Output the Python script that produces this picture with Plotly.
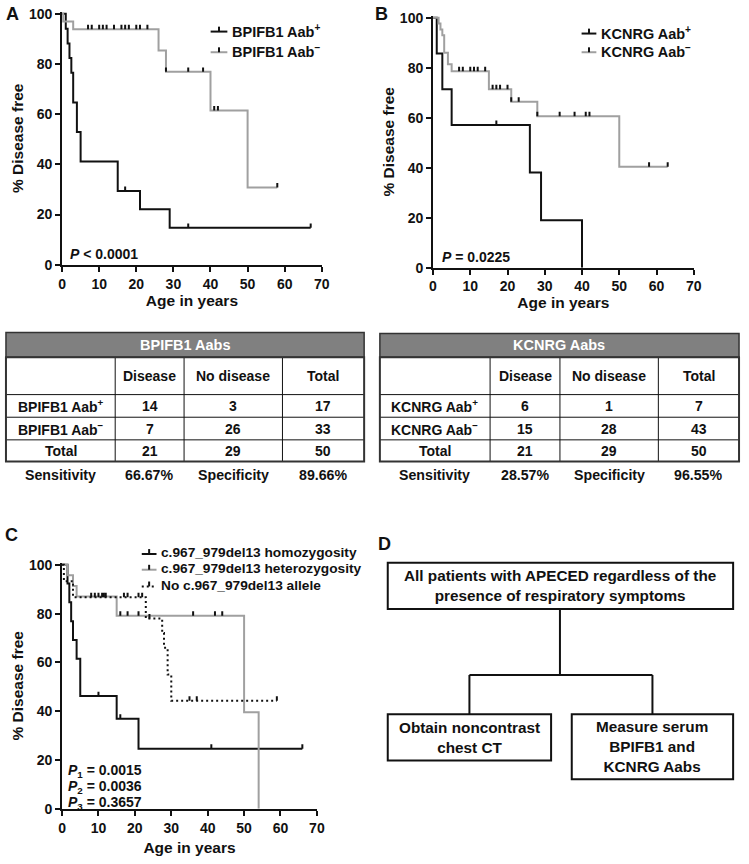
import plotly.graph_objects as go

W, H = 749, 864
FONT = "Liberation Sans, Arial, Helvetica, sans-serif"
BLACK = "#111111"
GRAY = "#a0a0a0"

# ---------------- data ----------------
# Panel A: BPIFB1 autoantibodies (Kaplan-Meier, % disease free)
A_pos_t = [0, 1, 1.5, 2, 2.5, 3, 4, 5, 15, 21, 29, 67]
A_pos_s = [100, 94.1, 88.2, 82.4, 76.5, 64.7, 52.9, 41.2, 29.4, 22.1, 14.7, 14.7]
A_pos_cens = [17, 34, 67]
A_neg_t = [0, 0.3, 3, 26, 28, 40, 50, 58]
A_neg_s = [100, 97.0, 93.9, 85.4, 76.9, 61.5, 30.8, 30.8]
A_neg_cens = [7, 8, 10, 11, 12, 14, 16, 17, 18, 20, 21, 23, 28, 34, 38, 41, 42, 58]

# Panel B: KCNRG autoantibodies
B_pos_t = [0, 1, 2.5, 5, 26, 29, 40]
B_pos_s = [100, 85.7, 71.4, 57.1, 38.1, 19.0, 0]
B_pos_cens = [17]
B_neg_t = [0, 1.5, 2, 2.5, 3, 4, 5, 15, 21, 28, 50, 63]
B_neg_s = [100, 97.7, 95.3, 93.0, 86.0, 81.4, 78.6, 71.4, 66.4, 60.6, 40.4, 40.4]
B_neg_cens = [7, 8, 10, 11, 12, 14, 16, 17, 18, 20, 21, 23, 28, 34, 38, 41, 42, 58, 63]

# Panel C: c.967_979del13 genotype
C_hom_t = [0, 1.5, 2, 2.5, 3, 4, 5, 15, 21, 66]
C_hom_s = [100, 92.3, 84.6, 76.9, 69.2, 61.5, 46.2, 36.9, 24.6, 24.6]
C_hom_cens = [10, 16, 41, 66]
C_het_t = [0, 1.5, 3, 4, 15, 50, 54]
C_het_s = [100, 95.7, 91.3, 87.0, 79.1, 39.6, 0]
C_het_cens = [16, 18, 21, 36, 42, 44]
C_no_t = [0, 0.5, 3, 23, 27.5, 28, 29, 30, 59]
C_no_s = [100, 93.3, 86.7, 78.0, 72.0, 66.0, 55.0, 44.3, 44.3]
C_no_cens = [8, 9, 10, 11, 11.5, 12, 17, 18, 21, 22, 24, 35, 37, 59]

age_ticks = [0, 10, 20, 30, 40, 50, 60, 70]
pct_ticks = [0, 20, 40, 60, 80, 100]

A_names = ["BPIFB1 Aab<sup>+</sup>", "BPIFB1 Aab<sup>\u2212</sup>"]
B_names = ["KCNRG Aab<sup>+</sup>", "KCNRG Aab<sup>\u2212</sup>"]
C_names = ["c.967_979del13 homozygosity", "c.967_979del13 heterozygosity",
           "No c.967_979del13 allele"]
A_pval = "<i>P</i> < 0.0001"
B_pval = "<i>P</i> = 0.0225"
C_pvals = ["<i>P</i><sub>1</sub> = 0.0015", "<i>P</i><sub>2</sub> = 0.0036",
           "<i>P</i><sub>3</sub> = 0.3657"]

table_cols = ["", "Disease", "No disease", "Total"]
tabA_title = "BPIFB1 Aabs"
tabA_rows = [["BPIFB1 Aab<sup>+</sup>", "14", "3", "17"],
             ["BPIFB1 Aab<sup>\u2212</sup>", "7", "26", "33"],
             ["Total", "21", "29", "50"]]
tabA_stats = ["Sensitivity", "66.67%", "Specificity", "89.66%"]
tabB_title = "KCNRG Aabs"
tabB_rows = [["KCNRG Aab<sup>+</sup>", "6", "1", "7"],
             ["KCNRG Aab<sup>\u2212</sup>", "15", "28", "43"],
             ["Total", "21", "29", "50"]]
tabB_stats = ["Sensitivity", "28.57%", "Specificity", "96.55%"]

flow_top = "All patients with APECED regardless of the<br>presence of respiratory symptoms"
flow_left = "Obtain noncontrast<br>chest CT"
flow_right = "Measure serum<br>BPIFB1 and<br>KCNRG Aabs"

# ---------------- layout constants (pixels) ----------------
YMAX = 100.8
PANELS = {
    "A": dict(x0=59, x1=323, y100=8, y0=263, xa="x", ya="y", xst=0),
    "B": dict(x0=436, x1=701, y100=12, y0=266, xa="x2", ya="y2", xst=2),
    "C": dict(x0=59, x1=318, y100=568, y0=816, xa="x3", ya="y3", xst=8),
}
TICK_PX = 4.5


def px(x):
    return x / W


def py(y):
    return 1 - y / H


def surv_at(ts, ss, t):
    v = ss[0]
    for ti, si in zip(ts, ss):
        if ti <= t:
            v = si
    return v


fig = go.Figure()
annotations = []
shapes = []


def txt(x, y, text, size=14, color=BLACK, xanchor="center", yanchor="middle",
        xref="paper", yref="paper", align="center"):
    annotations.append(dict(x=x, y=y, xref=xref, yref=yref, text=text,
                            showarrow=False, xanchor=xanchor, yanchor=yanchor,
                            align=align,
                            font=dict(family=FONT, size=size, color=color,
                                      weight="bold")))


def seg(x0, y0, x1, y1, color=BLACK, width=2, dash="solid"):
    shapes.append(dict(type="line", xref="paper", yref="paper",
                       x0=px(x0), x1=px(x1), y0=py(y0), y1=py(y1),
                       line=dict(color=color, width=width, dash=dash)))


def add_km(panel, ts, ss, cens, color, name, dash="solid", tickcolor=BLACK):
    p = PANELS[panel]
    h_data = TICK_PX * 100.0 / (p["y0"] - p["y100"])
    fig.add_trace(go.Scatter(x=ts, y=ss, mode="lines", name=name,
                             line=dict(color=color, width=2, shape="hv", dash=dash),
                             xaxis=p["xa"], yaxis=p["ya"], showlegend=False,
                             hoverinfo="skip"))
    cx, cy = [], []
    for c in cens:
        v = surv_at(ts, ss, c)
        cx += [c, c, None]
        cy += [v, v + h_data, None]
    fig.add_trace(go.Scatter(x=cx, y=cy, mode="lines", name=name + " (censored)",
                             line=dict(color=tickcolor, width=2),
                             xaxis=p["xa"], yaxis=p["ya"], showlegend=False,
                             hoverinfo="skip"))


def legend_entry(sx0, sx1, y, color, text, size, dash="solid"):
    seg(sx0, y, sx1, y, color=color, width=2, dash=dash)
    xm = (sx0 + sx1) / 2
    seg(xm, y, xm, y - 5, color=BLACK, width=2)
    txt(px(sx1 + 3), py(y - 1), text, size=size, xanchor="left")


add_km("A", A_pos_t, A_pos_s, A_pos_cens, BLACK, A_names[0])
add_km("A", A_neg_t, A_neg_s, A_neg_cens, GRAY, A_names[1])
add_km("B", B_pos_t, B_pos_s, B_pos_cens, BLACK, B_names[0])
add_km("B", B_neg_t, B_neg_s, B_neg_cens, GRAY, B_names[1])
add_km("C", C_hom_t, C_hom_s, C_hom_cens, BLACK, C_names[0])
add_km("C", C_het_t, C_het_s, C_het_cens, GRAY, C_names[1])
add_km("C", C_no_t, C_no_s, C_no_cens, BLACK, C_names[2], dash="2px,3px")

# legends
for name, col, yy in zip(A_names, [BLACK, GRAY], [26, 47]):
    legend_entry(210, 227, yy, col, name, 14.5)
for name, col, yy in zip(B_names, [BLACK, GRAY], [28, 47]):
    legend_entry(587, 602, yy, col, name, 14.5)
for name, col, yy, d in zip(C_names, [BLACK, GRAY, BLACK], [557, 573, 590],
                            ["solid", "solid", "2px,3px"]):
    legend_entry(140, 155, yy, col, name, 13.7, dash=d)

axis_font = dict(family=FONT, size=14, color=BLACK, weight="bold")
title_font = dict(family=FONT, size=15.5, color=BLACK, weight="bold")
layout_axes = {}
for key, p in PANELS.items():
    xn = "xaxis" + p["xa"][1:]
    yn = "yaxis" + p["ya"][1:]
    ytop = p["y0"] - (p["y0"] - p["y100"]) * YMAX / 100.0
    common = dict(showline=True, linecolor=BLACK, linewidth=2, ticks="outside",
                  ticklen=5, tickwidth=2, tickcolor=BLACK, showgrid=False,
                  zeroline=False, tickfont=axis_font, fixedrange=True)
    layout_axes[xn] = dict(domain=[px(p["x0"]), px(p["x1"])], range=[0, 70],
                           tickvals=age_ticks, anchor=p["ya"],
                           title=dict(text="Age in years", font=title_font,
                                      standoff=p["xst"]),
                           **common)
    layout_axes[yn] = dict(domain=[py(p["y0"]), py(ytop)], range=[0, YMAX],
                           tickvals=pct_ticks, anchor=p["xa"],
                           title=dict(text="% Disease free", font=title_font, standoff=1),
                           **common)

fig.update_layout(
    width=W, height=H, margin=dict(l=0, r=0, t=0, b=0),
    paper_bgcolor="white", plot_bgcolor="white", showlegend=False,
    font=dict(family=FONT, color=BLACK, weight="bold"),
    modebar=dict(bgcolor="rgba(0,0,0,0)", color="rgba(0,0,0,0)",
                 activecolor="rgba(0,0,0,0)"),
    **layout_axes,
)

# panel letters
for letter, (lx, ly) in {"A": (9, 8), "B": (384, 8), "C": (8, 538), "D": (387, 547)}.items():
    txt(px(lx), py(ly), letter, size=18)

# p values (data coordinates)
txt(1.5, 4.2, A_pval, size=14, xanchor="left", xref="x", yref="y")
txt(1.8, 4.2, B_pval, size=14, xanchor="left", xref="x2", yref="y2")
for pv, yv in zip(C_pvals, [15.4, 8.8, 2.2]):
    txt(1.0, yv, pv, size=14, xanchor="left", xref="x3", yref="y3")


# tables
def draw_table(xs, ys, title, rows, stats, stats_y):
    shapes.append(dict(type="rect", xref="paper", yref="paper",
                       x0=px(xs[0]), x1=px(xs[-1]), y0=py(ys[1]), y1=py(ys[0]),
                       fillcolor="#808080", line=dict(color="#333333", width=1.5)))
    txt(px((xs[0] + xs[-1]) / 2), py((ys[0] + ys[1]) / 2), title, size=14.5, color="white")
    for y in ys[2:-1]:
        seg(xs[0], y, xs[-1], y, width=1)
    for x in xs[1:-1]:
        seg(x, ys[1], x, ys[-1], width=1)
    shapes.append(dict(type="rect", xref="paper", yref="paper",
                       x0=px(xs[0]), x1=px(xs[-1]), y0=py(ys[-1]), y1=py(ys[1]),
                       line=dict(color="#333333", width=2)))
    all_rows = [table_cols] + rows
    for r, row in enumerate(all_rows):
        yc = (ys[r + 1] + ys[r + 2]) / 2
        for c, val in enumerate(row):
            if val:
                xc = (xs[c] + xs[c + 1]) / 2
                txt(px(xc), py(yc), val, size=14)
    for c, val in enumerate(stats):
        xc = (xs[c] + xs[c + 1]) / 2
        txt(px(xc), py(stats_y), val, size=14.2)


draw_table([2, 113, 183, 283, 366], [332, 357, 395, 418, 441, 463],
           tabA_title, tabA_rows, tabA_stats, 477)
draw_table([382, 494, 565, 665, 747], [333, 357, 395, 418, 441, 463],
           tabB_title, tabB_rows, tabB_stats, 477)


# flowchart (panel D)
def box(x0, y0, x1, y1, text):
    shapes.append(dict(type="rect", xref="paper", yref="paper",
                       x0=px(x0), x1=px(x1), y0=py(y1), y1=py(y0),
                       line=dict(color=BLACK, width=2), fillcolor="white"))
    txt(px((x0 + x1) / 2), py((y0 + y1) / 2), text, size=15.3)


seg(565, 613, 565, 680)
seg(473, 680, 659, 680)
seg(473, 680, 473, 720)
seg(659, 680, 659, 720)
box(390, 566, 741, 613, flow_top)
box(390, 720, 556, 767, flow_left)
box(577, 720, 741, 786, flow_right)

fig.update_layout(annotations=annotations, shapes=shapes)
fig.write_html("out.html", post_script="document.body.style.margin='0px';",
               config={"displayModeBar": False})
